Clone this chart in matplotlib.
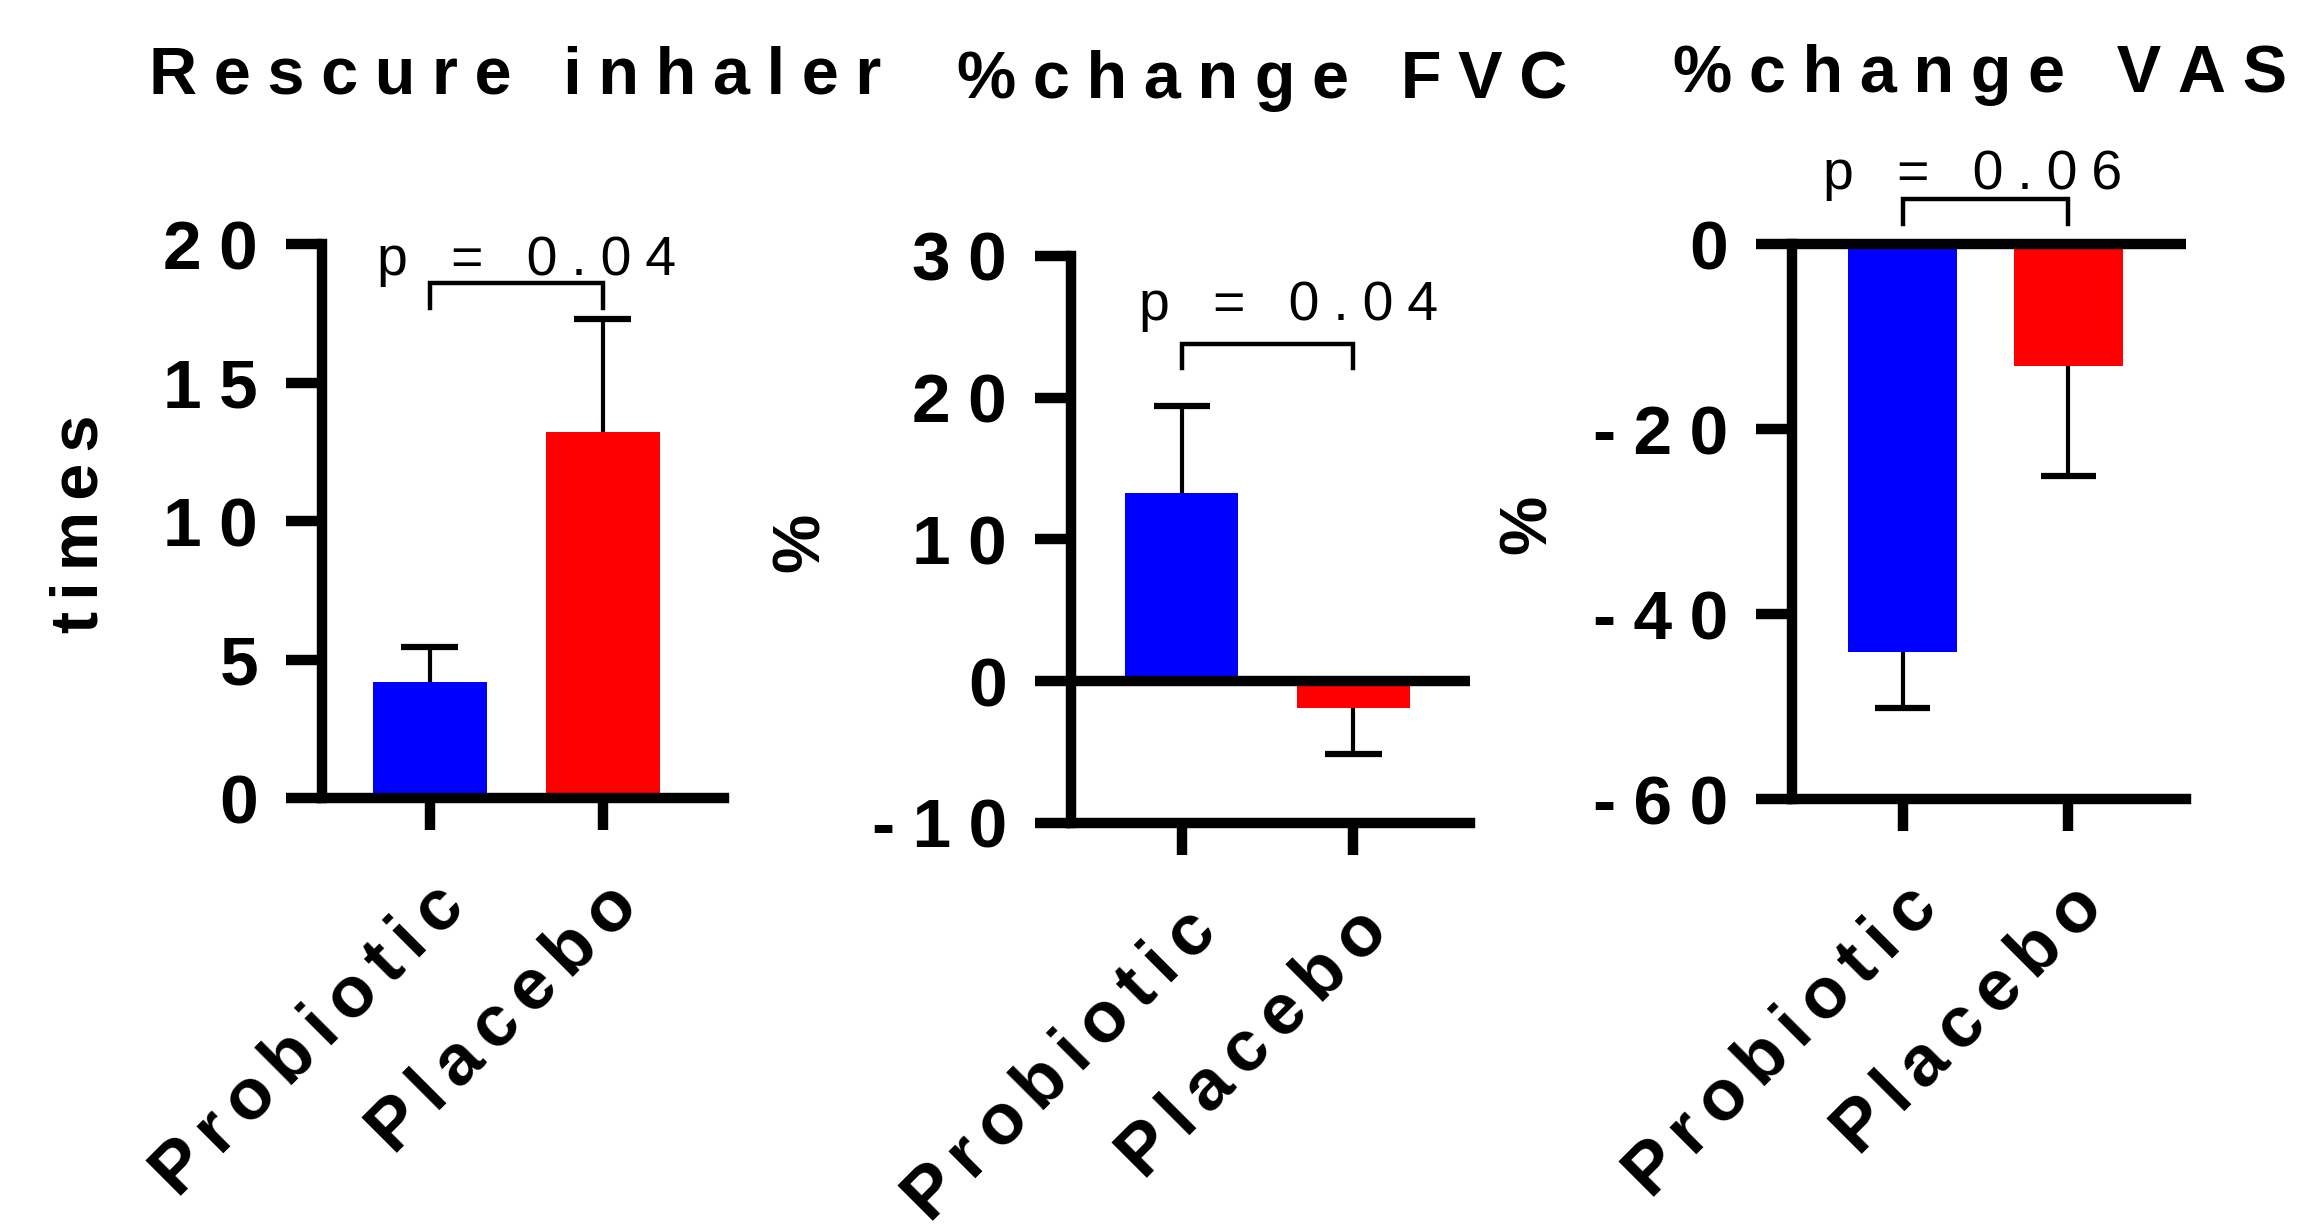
import numpy as np
import matplotlib.pyplot as plt
from matplotlib.transforms import ScaledTranslation

plt.rcParams["font.family"] = ["Liberation Sans", "DejaVu Sans"]

# groups and colours
groups = ["Probiotic", "Placebo"]
colors = ["#0000ff", "#ff0000"]

titles = ["Rescure inhaler", "%change FVC", "%change VAS"]
ylabels = ["times", "%", "%"]

# mean and one-sided error (away from zero) for each panel
means_rescue = [4.2, 13.2]
err_rescue = [1.25, 4.1]
means_fvc = [13.3, -1.9]
err_fvc = [6.1, 3.2]
means_vas = [-44.1, -13.2]
err_vas = [6.1, 11.9]

ylims = [(0, 20), (-10, 30), (-60, 0)]
yticks = [[0, 5, 10, 15, 20], [-10, 0, 10, 20, 30], [-60, -40, -20, 0]]

# significance brackets
pvals = ["p = 0.04", "p = 0.04", "p = 0.06"]
bracket_top = [18.6, 23.8, 4.9]
bracket_leg = [17.7, 22.1, 2.2]


def spaced(s, gap="\u2005"):
    # GraphPad style letter spacing
    return gap.join(s)


fig = plt.figure(figsize=(23.16, 12.3), dpi=100)
rects = [[0.1390, 0.3512, 0.1736, 0.4504],
         [0.4624, 0.3309, 0.1723, 0.4610],
         [0.7737, 0.3504, 0.1701, 0.4512]]
xlims = [(-0.624, 1.70), (-0.647, 1.68), (-0.67, 1.71)]
title_pos = [(0.2225, 0.924), (0.545, 0.920), (0.855, 0.925)]
ptext_x = [0.56, 0.62, 0.42]
ptext_y = [18.9, 25.5, 5.9]
ylab_x = [-0.60, -0.674, -0.668]

data = [(means_rescue, err_rescue), (means_fvc, err_fvc), (means_vas, err_vas)]
lw = 7.5
x = np.arange(len(groups))
yshift = ScaledTranslation(0, -0.10, fig.dpi_scale_trans)
xshift = ScaledTranslation(-0.16, 0, fig.dpi_scale_trans)

for i in range(3):
    ax = fig.add_axes(rects[i])
    means, errs = data[i]
    ax.bar(x, means, width=0.66, color=colors, zorder=2)
    for xi, m, e in zip(x, means, errs):
        tip = m + e if m >= 0 else m - e
        ax.vlines(xi, m, tip, color="k", lw=3, zorder=3)
        ax.hlines(tip, xi - 0.165, xi + 0.165, color="k", lw=4.5, zorder=3)

    if ylims[i][0] < 0:
        ax.axhline(0, color="k", lw=lw, zorder=4, clip_on=False,
                   solid_capstyle="butt")

    # bracket and p value
    ax.plot([0, 0, 1, 1], [bracket_leg[i], bracket_top[i], bracket_top[i], bracket_leg[i]],
            color="k", lw=3.2, clip_on=False, solid_joinstyle="miter")
    ax.text(ptext_x[i], ptext_y[i], spaced(pvals[i]), ha="center", va="baseline",
            fontsize=40)

    ax.set_xlim(xlims[i])
    ax.set_ylim(ylims[i])
    ax.set_yticks(yticks[i], labels=[spaced(str(t)) for t in yticks[i]],
                  fontsize=50, fontweight="bold")
    for lab in ax.get_yticklabels():
        lab.set_transform(lab.get_transform() + yshift)
    ax.set_xticks(x, labels=[spaced(g, "\u2006") for g in groups], fontsize=52,
                  fontweight="bold", rotation=45, ha="right", va="top",
                  rotation_mode="anchor")
    for lab in ax.get_xticklabels():
        lab.set_transform(lab.get_transform() + xshift)
    ax.tick_params(axis="y", length=26, width=lw, pad=20)
    ax.tick_params(axis="x", length=23, width=lw, pad=30)
    for s in ["top", "right"]:
        ax.spines[s].set_visible(False)
    for s in ["left", "bottom"]:
        ax.spines[s].set_linewidth(lw)
        ax.spines[s].set_capstyle("projecting")

    ax.text(ylab_x[i], 0.495, spaced(ylabels[i], "\u2006"), transform=ax.transAxes,
            rotation=90, ha="center", va="center", fontsize=48,
            fontweight="bold")
    fig.text(title_pos[i][0], title_pos[i][1], spaced(titles[i]), ha="center",
             va="baseline", fontsize=48, fontweight="bold")

fig.savefig("out.png", dpi=100)
